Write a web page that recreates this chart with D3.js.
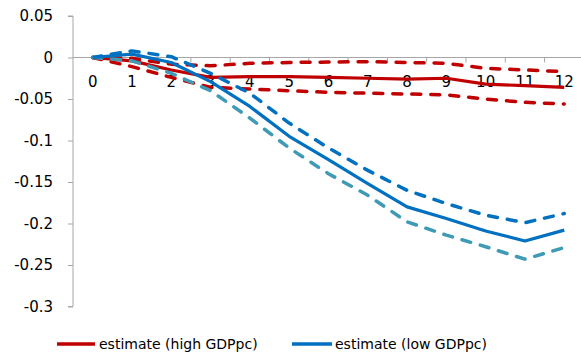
<!DOCTYPE html>
<html><head><meta charset="utf-8">
<script src="https://cdn.jsdelivr.net/npm/d3@7"></script>
<style>body{margin:0;background:#fff}svg{display:block}text{font-family:"DejaVu Sans",sans-serif}</style>
</head><body><svg id="c" width="581" height="355"></svg>
<script>
const categories = ["0","1","2","3","4","5","6","7","8","9","10","11","12"];
const yTicks = [0.05,0,-0.05,-0.1,-0.15,-0.2,-0.25,-0.3];
const yTickLabels = ["0.05","0","-0.05","-0.1","-0.15","-0.2","-0.25","-0.3"];
const highEstimate = [0,-0.004,-0.015,-0.024,-0.023,-0.023,-0.024,-0.025,-0.026,-0.025,-0.032,-0.034,-0.036];
const highUpper    = [0,-0.001,-0.008,-0.010,-0.007,-0.006,-0.0055,-0.005,-0.006,-0.007,-0.013,-0.015,-0.017];
const highLower    = [0,-0.011,-0.024,-0.036,-0.038,-0.040,-0.042,-0.043,-0.044,-0.045,-0.050,-0.054,-0.056];
const lowEstimate  = [0,0.004,-0.006,-0.029,-0.059,-0.095,-0.123,-0.152,-0.180,-0.194,-0.209,-0.221,-0.208];
const lowUpper     = [0,0.008,0.001,-0.019,-0.043,-0.079,-0.109,-0.136,-0.160,-0.176,-0.190,-0.199,-0.188];
const lowLower     = [0,-0.004,-0.019,-0.040,-0.073,-0.109,-0.140,-0.166,-0.198,-0.214,-0.228,-0.243,-0.229];
const legendLabels = ["estimate (high GDPpc)","estimate (low GDPpc)"];

const svg = d3.select("#c");
const x = d3.scaleBand().domain(categories).range([73, 73 + 13*39.3]);
const y = d3.scaleLinear().domain([-0.3, 0.05]).range([306.5, 16]);
const axisColor = "#a6a6a6";
const font = '"DejaVu Sans",sans-serif';

// y axis
const ya = svg.append("g").attr("transform","translate(73,0)")
  .call(d3.axisLeft(y).tickValues(yTicks).tickSize(5).tickPadding(15)
    .tickFormat((d,i)=>yTickLabels[i]));
ya.select(".domain").attr("stroke",axisColor).attr("d",`M-5,${y(0.05)}H0V${y(-0.3)}H-5`);
ya.selectAll(".tick line").attr("stroke",axisColor);
ya.selectAll(".tick text").attr("font-size",15).attr("fill","#000").attr("font-family",font);

// x axis at y=0
const xa = svg.append("g").attr("transform",`translate(0,${y(0)})`)
  .call(d3.axisBottom(x).tickSize(0).tickPadding(19));
xa.select(".domain").attr("stroke",axisColor).attr("d",`M73,0H581`);
xa.selectAll(".tick text").attr("font-size",15).attr("fill","#000").attr("font-family",font);
// tick marks between categories
const bounds = categories.map((c,i)=>x.range()[0]+i*x.step());
svg.append("g").selectAll("line").data(bounds.slice(1)).join("line")
  .attr("x1",d=>d).attr("x2",d=>d).attr("y1",y(0)).attr("y2",y(0)+5)
  .attr("stroke",axisColor);

const line = d3.line().x((d,i)=>x(categories[i])+x.bandwidth()/2).y(d=>y(d));
const series = [
  {v:highUpper, c:"#c00000", dash:true},
  {v:highLower, c:"#c00000", dash:true},
  {v:highEstimate, c:"#c00000", dash:false},
  {v:lowUpper, c:"#0070c0", dash:true},
  {v:lowLower, c:"#3f9ab6", dash:true},
  {v:lowEstimate, c:"#0070c0", dash:false}
];
svg.append("g").selectAll("path").data(series).join("path")
  .attr("d",d=>line(d.v)).attr("fill","none").attr("stroke",d=>d.c)
  .attr("stroke-width",d=>d.dash?3.5:3.2)
  .attr("stroke-linecap",d=>d.dash?"round":"butt")
  .attr("stroke-linejoin","round")
  .attr("stroke-dasharray",d=>d.dash?"9,10":null);

// legend
const leg = [{x1:57,x2:95,tx:99,c:"#c00000"},{x1:292,x2:332,tx:335,c:"#0070c0"}];
const lg = svg.append("g");
leg.forEach((l,i)=>{
  lg.append("line").attr("x1",l.x1).attr("x2",l.x2).attr("y1",344).attr("y2",344)
    .attr("stroke",l.c).attr("stroke-width",3.5);
  lg.append("text").attr("x",l.tx).attr("y",349).attr("font-size",14).attr("fill","#000")
    .attr("font-family",font).text(legendLabels[i]);
});
</script></body></html>
